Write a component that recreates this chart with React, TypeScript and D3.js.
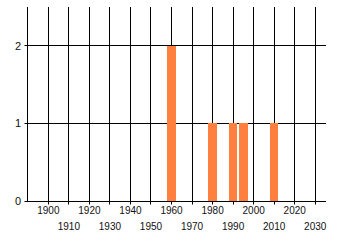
import React from "react";
import * as d3 from "d3";

const years = [1960, 1980, 1990, 1995, 2010];
const counts = [2, 1, 1, 1, 1];
const xTicks = [1890, 1900, 1910, 1920, 1930, 1940, 1950, 1960, 1970, 1980, 1990, 2000, 2010, 2020, 2030];
const yTicks = [0, 1, 2];

const W = 340;
const H = 245;

export default function App() {
  const x = d3.scaleLinear().domain([1890, 2035]).range([27.8, 325.5]);
  const y = d3.scaleLinear().domain([0, 2.5]).range([201, 7]);
  const crisp = (v: number) => Math.floor(v) + 0.5;
  const y0 = crisp(y(0));
  const xL = crisp(x(1890));
  const xR = Math.round(x(2035));
  const barHalf = 2.1;
  const font = "'Liberation Sans', Arial, sans-serif";

  return (
    <svg width={W} height={H} style={{ position: "absolute", left: 0, top: 0, background: "#fff" }}>
      {/* vertical gridlines */}
      {xTicks.map((t) => (
        <line key={"vx" + t} x1={crisp(x(t))} x2={crisp(x(t))} y1={7} y2={t === 1890 ? y0 : y0 + 3} stroke="#000" strokeWidth={1} />
      ))}
      {/* horizontal gridlines */}
      {yTicks.map((t) => (
        <line key={"hy" + t} x1={xL - 3} x2={xR} y1={crisp(y(t))} y2={crisp(y(t))} stroke="#000" strokeWidth={1} />
      ))}
      {/* bars */}
      {years.map((yr, i) => (
        <rect
          key={"b" + yr}
          x={Math.round(x(yr - barHalf))}
          width={Math.round(x(yr + barHalf)) - Math.round(x(yr - barHalf))}
          y={Math.round(y(counts[i]))}
          height={Math.round(y(0)) - Math.round(y(counts[i]))}
          fill="#ff7f3f"
        />
      ))}
      {/* y labels */}
      {yTicks.map((t) => (
        <text key={"yl" + t} x={21} y={y(t)} dy="0.35em" textAnchor="end" fontFamily={font} fontSize={11} fill="#111">
          {t}
        </text>
      ))}
      {/* x labels */}
      {xTicks
        .filter((t) => t > 1890)
        .map((t, i) => (
          <text
            key={"xl" + t}
            x={x(t)}
            y={i % 2 === 0 ? 210 : 226}
            dy="0.35em"
            textAnchor="middle"
            fontFamily={font}
            fontSize={10}
            fill="#111"
          >
            {t}
          </text>
        ))}
    </svg>
  );
}
